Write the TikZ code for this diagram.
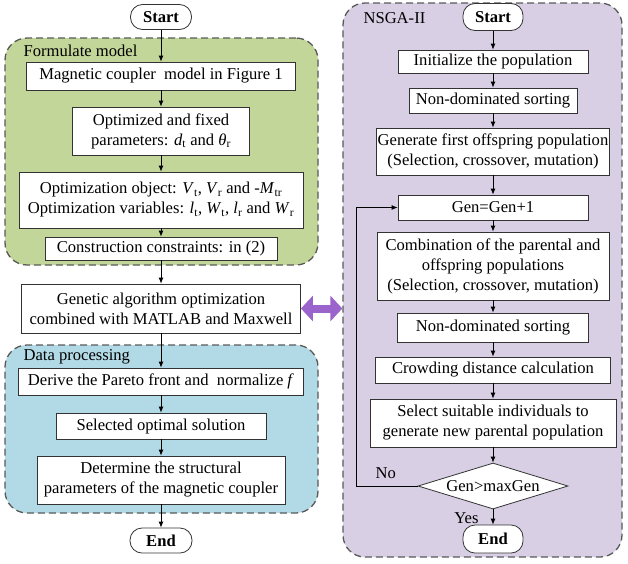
\documentclass[tikz,border=0pt]{standalone}
\usepackage{fontspec}
\setmainfont{Liberation Serif}
\usetikzlibrary{arrows.meta,shapes.geometric,calc}

\definecolor{modelgreen}{RGB}{194,214,153}
\definecolor{datablue}{RGB}{178,218,230}
\definecolor{nsgapurple}{RGB}{216,207,228}
\definecolor{linkpurple}{RGB}{155,100,205}
\newcommand{\vsub}[2]{\textit{#1}\textsubscript{#2}}

\begin{document}
\begin{tikzpicture}[x=1pt, y=-1pt, font=\fontsize{16.6}{20}\selectfont,
    region/.style={draw=black!65, dashed, dash pattern=on 7pt off 4pt, line width=1.3pt,
      rounded corners=22pt, inner sep=0pt},
    box/.style={draw=black!80, fill=white, line width=0.8pt, align=center, inner sep=1pt},
    term/.style={box, rounded corners=12pt, font=\fontsize{16.6}{20}\selectfont\bfseries},
    flow/.style={-{Latex[length=6pt,width=5pt]}, line width=0.8pt}]
  \useasboundingbox (0,0) rectangle (628,563);
  % regions
  \node[region, fill=modelgreen, minimum width=313pt, minimum height=227pt] (formulate) at (161.5,151.5) {};
  \node[region, fill=datablue, minimum width=313pt, minimum height=168pt] (dataproc) at (161.5,429) {};
  \node[region, fill=nsgapurple, minimum width=279pt, minimum height=554pt] (nsga) at (482.5,280) {};
  \node[anchor=west] at (20,51) {Formulate model};
  \node[anchor=west] at (20,357) {Data processing};
  \node[anchor=west] at (360,18) {NSGA-II};

  % left column
  \node[term, minimum width=61pt, minimum height=25pt] (start) at (161,17) {Start};
  \node[box, minimum width=269pt, minimum height=28pt] (model) at (161,76) {Magnetic coupler\ \ model in Figure 1};
  \node[box, minimum width=177pt, minimum height=48pt] (param) at (161,131)
    {Optimized and fixed\\ parameters: \vsub{d}{t} and \vsub{θ}{r}};
  \node[box, minimum width=284pt, minimum height=56pt] (object) at (161,200)
    {Optimization object: \vsub{V}{t}, \vsub{V}{r} and -\vsub{M}{tr}\\
     Optimization variables: \vsub{l}{t}, \vsub{W}{t}, \vsub{l}{r} and \vsub{W}{r}};
  \node[box, minimum width=232pt, minimum height=23pt] (constr) at (161,248.5) {Construction constraints: in (2)};
  \node[box, minimum width=279pt, minimum height=49pt] (genetic) at (161,308.5)
    {Genetic algorithm optimization\\ combined with MATLAB and Maxwell};
  \node[box, minimum width=285pt, minimum height=27pt] (pareto) at (161,381.5) {Derive the Pareto front and\ \ normalize \textit{f}};
  \node[box, minimum width=210pt, minimum height=26pt] (select) at (161,426) {Selected optimal solution};
  \node[box, minimum width=248pt, minimum height=48pt] (determ) at (161,480)
    {Determine the structural\\ parameters of the magnetic coupler};
  \node[term, minimum width=62pt, minimum height=25pt] (end) at (161,540.5) {End};

  % right column
  \node[term, minimum width=60pt, minimum height=27pt] (rstart) at (493,17) {Start};
  \node[box, minimum width=190pt, minimum height=23pt] (init) at (493,61.5) {Initialize the population};
  \node[box, minimum width=168pt, minimum height=25pt] (sort) at (493,100.5) {Non-dominated sorting};
  \node[box, minimum width=232pt, minimum height=47pt] (offs) at (493,151.5)
    {Generate first offspring population\\ (Selection, crossover, mutation)};
  \node[box, minimum width=190pt, minimum height=25pt] (gen) at (493,207.5) {Gen=Gen+1};
  \node[box, minimum width=232pt, minimum height=68pt] (comb) at (493,266)
    {Combination of the parental and\\ offspring populations\\ (Selection, crossover, mutation)};
  \node[box, minimum width=191pt, minimum height=29pt] (sort2) at (493,327.5) {Non-dominated sorting};
  \node[box, minimum width=235pt, minimum height=26pt] (crowd) at (493,370) {Crowding distance calculation};
  \node[box, minimum width=246pt, minimum height=48pt] (indiv) at (493,423)
    {Select suitable individuals to\\ generate new parental population};
  \node[diamond, aspect=3.2, draw=black!80, fill=white, line width=0.8pt, inner sep=0pt,
    minimum width=150pt, minimum height=46pt] (check) at (493,486) {Gen>maxGen};
  \node[term, minimum width=60pt, minimum height=28pt] (rend) at (493,539) {End};
  \coordinate (loop) at (356,486);

  % connectors
  \foreach \a/\b in {start/model, model/param, param/object, object/constr, constr/genetic,
      genetic/pareto, pareto/select, select/determ, determ/end,
      rstart/init, init/sort, sort/offs, offs/gen, gen/comb, comb/sort2, sort2/crowd,
      crowd/indiv, indiv/check, check/rend}
    \draw[flow] (\a) -- (\b);
  \draw[flow] (check.west) -- (loop) |- (gen.west);
  \node[anchor=south west] at (372,482) {No};
  \node[anchor=south east] at (482,527) {Yes};
  \draw[linkpurple, line width=8pt, {Triangle[length=12pt,width=25pt]}-{Triangle[length=12pt,width=25pt]}]
    (genetic.east) -- (genetic.east -| nsga.west);
\end{tikzpicture}
\end{document}
